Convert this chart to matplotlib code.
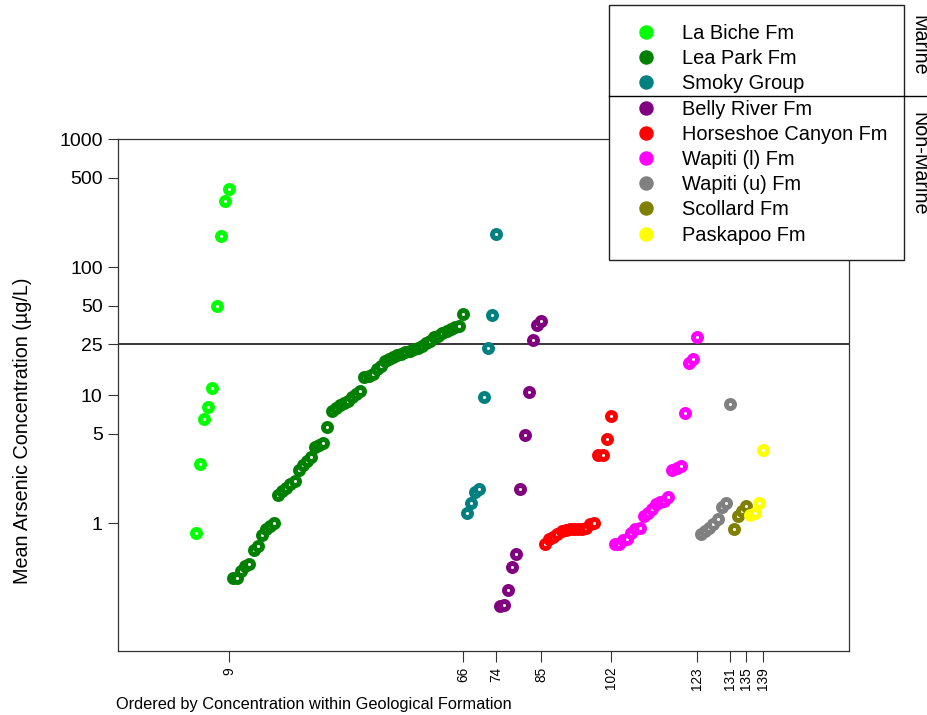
import matplotlib
matplotlib.use("Agg")
import matplotlib.pyplot as plt
from matplotlib.lines import Line2D
from matplotlib.patches import Rectangle
import numpy as np

plt.rcParams['font.family'] = ['Liberation Sans', 'DejaVu Sans']

# ---------------- data ----------------
formations = ["La Biche Fm", "Lea Park Fm", "Smoky Group", "Belly River Fm",
              "Horseshoe Canyon Fm", "Wapiti (l) Fm", "Wapiti (u) Fm",
              "Scollard Fm", "Paskapoo Fm"]
colors = ["#00FF00", "#008000", "#008080", "#800080", "#FF0000",
          "#FF00FF", "#808080", "#808000", "#FFFF00"]

la_biche = [0.84, 2.9, 6.5, 8.1, 11.4, 50, 175, 330, 405]
lea_park = [0.37, 0.37, 0.42, 0.46, 0.48, 0.62, 0.66, 0.80, 0.89, 0.95, 1.0,
            1.66, 1.78, 1.89, 2.02, 2.13, 2.6, 2.85, 3.06, 3.29, 3.89, 4.1,
            4.23, 5.64, 7.5, 7.9, 8.3, 8.7, 9.0, 9.7, 10.2, 10.8, 13.7, 14.2,
            14.6, 16.1, 17.0, 18.3, 19.2, 19.7, 20.6, 21.0, 21.6, 22.2, 22.8,
            23.4, 24.1, 25.4, 26.6, 28.2, 29.1, 30.3, 31.5, 32.8, 33.7, 34.8,
            42.6]
smoky = [1.2, 1.43, 1.75, 1.85, 9.7, 23.5, 42, 180]
belly_river = [0.225, 0.228, 0.30, 0.45, 0.57, 1.84, 4.9, 10.5, 27, 35.5, 38]
horseshoe = [0.68, 0.75, 0.78, 0.82, 0.86, 0.88, 0.90, 0.90, 0.90, 0.90,
             0.92, 0.98, 1.0, 3.4, 3.4, 4.5, 6.9]
wapiti_l = [0.68, 0.69, 0.74, 0.75, 0.84, 0.90, 0.92, 1.13, 1.20, 1.28, 1.40,
            1.46, 1.48, 1.59, 2.6, 2.7, 2.8, 7.2, 17.9, 19.2, 28.3]
wapiti_u = [0.82, 0.86, 0.92, 0.99, 1.08, 1.33, 1.43, 8.5]
scollard = [0.90, 1.13, 1.24, 1.35]
paskapoo = [1.15, 1.2, 1.43, 3.7]

groups = [la_biche, lea_park, smoky, belly_river, horseshoe,
          wapiti_l, wapiti_u, scollard, paskapoo]

guideline = 25
y_ticks = [1, 5, 10, 25, 50, 100, 500, 1000]
y_ticklabels = ["1", "5", "10", "25", "50", "100", "500", "1000"]

# ---------------- figure ----------------
W, H = 927, 715
fig = plt.figure(figsize=(W / 100, H / 100), dpi=100)
ax = fig.add_axes([118 / W, 1 - 651 / H, (849 - 118) / W, (651 - 139) / H])

start = 1
x_breaks = []
for vals, c in zip(groups, colors):
    xs = np.arange(start, start + len(vals))
    ax.scatter(xs, vals, s=34, facecolors="white", edgecolors=c,
               linewidths=3.5, zorder=3)
    start += len(vals)
    x_breaks.append(start - 1)

ax.axhline(guideline, color="black", lw=1.1, zorder=2)

ax.set_yscale("log")
ax.set_ylim(0.1, 1000)
ax.set_xlim(-18, 160)
ax.set_yticks(y_ticks)
ax.set_yticklabels(y_ticklabels)
ax.yaxis.set_minor_locator(matplotlib.ticker.NullLocator())
ax.set_xticks(x_breaks)
ax.set_xticklabels([str(b) for b in x_breaks], rotation=90, fontsize=9.8)
ax.tick_params(axis="y", labelsize=14, length=7, width=0.8, direction="out",
               color="#333333", pad=4)
ax.tick_params(axis="x", length=8, width=0.8, direction="out",
               color="#333333", pad=3.5)
for sp in ax.spines.values():
    sp.set_color("#333333")
    sp.set_linewidth(0.9)

ax.set_xlabel("Ordered by Concentration within Geological Formation",
              fontsize=11.8, loc="left")
ax.xaxis.set_label_coords(-0.003, -0.1045)
ax.xaxis.label.set_va("center")
ax.set_ylabel("Mean Arsenic Concentration (µg/L)", fontsize=14.2)
ax.yaxis.set_label_coords(-0.1176, 0.4307)

# ---------------- legend ----------------
box = Rectangle((609 / W, 1 - 260 / H), (904 - 609) / W, (260 - 5) / H,
                transform=fig.transFigure, facecolor="white",
                edgecolor="#222222", lw=1.0, zorder=4)
fig.add_artist(box)

handles = [Line2D([], [], marker="o", linestyle="none", color=c,
                  markersize=9.4) for c in colors]
fs = 14.4
leg = fig.legend(handles, formations, loc="upper left",
                 bbox_to_anchor=((646 - fs * 1.389 * 0.5) / W, 1 - 24 / H),
                 bbox_transform=fig.transFigure, frameon=False, fontsize=fs,
                 borderpad=0, borderaxespad=0, handlelength=1.0,
                 handletextpad=1.3, labelspacing=0.31)
leg.set_zorder(6)

sep = Line2D([609 / W, 1.0], [1 - 95.5 / H, 1 - 95.5 / H],
             transform=fig.transFigure, color="black", lw=1.0, zorder=7)
fig.add_artist(sep)
fig.text(919 / W, 1 - 45 / H, "Marine", rotation=-90, ha="center",
         va="center", fontsize=14.2)
fig.text(919 / W, 1 - 164 / H, "Non-Marine", rotation=-90, ha="center",
         va="center", fontsize=14.2)

fig.savefig("out.png", dpi=100)
